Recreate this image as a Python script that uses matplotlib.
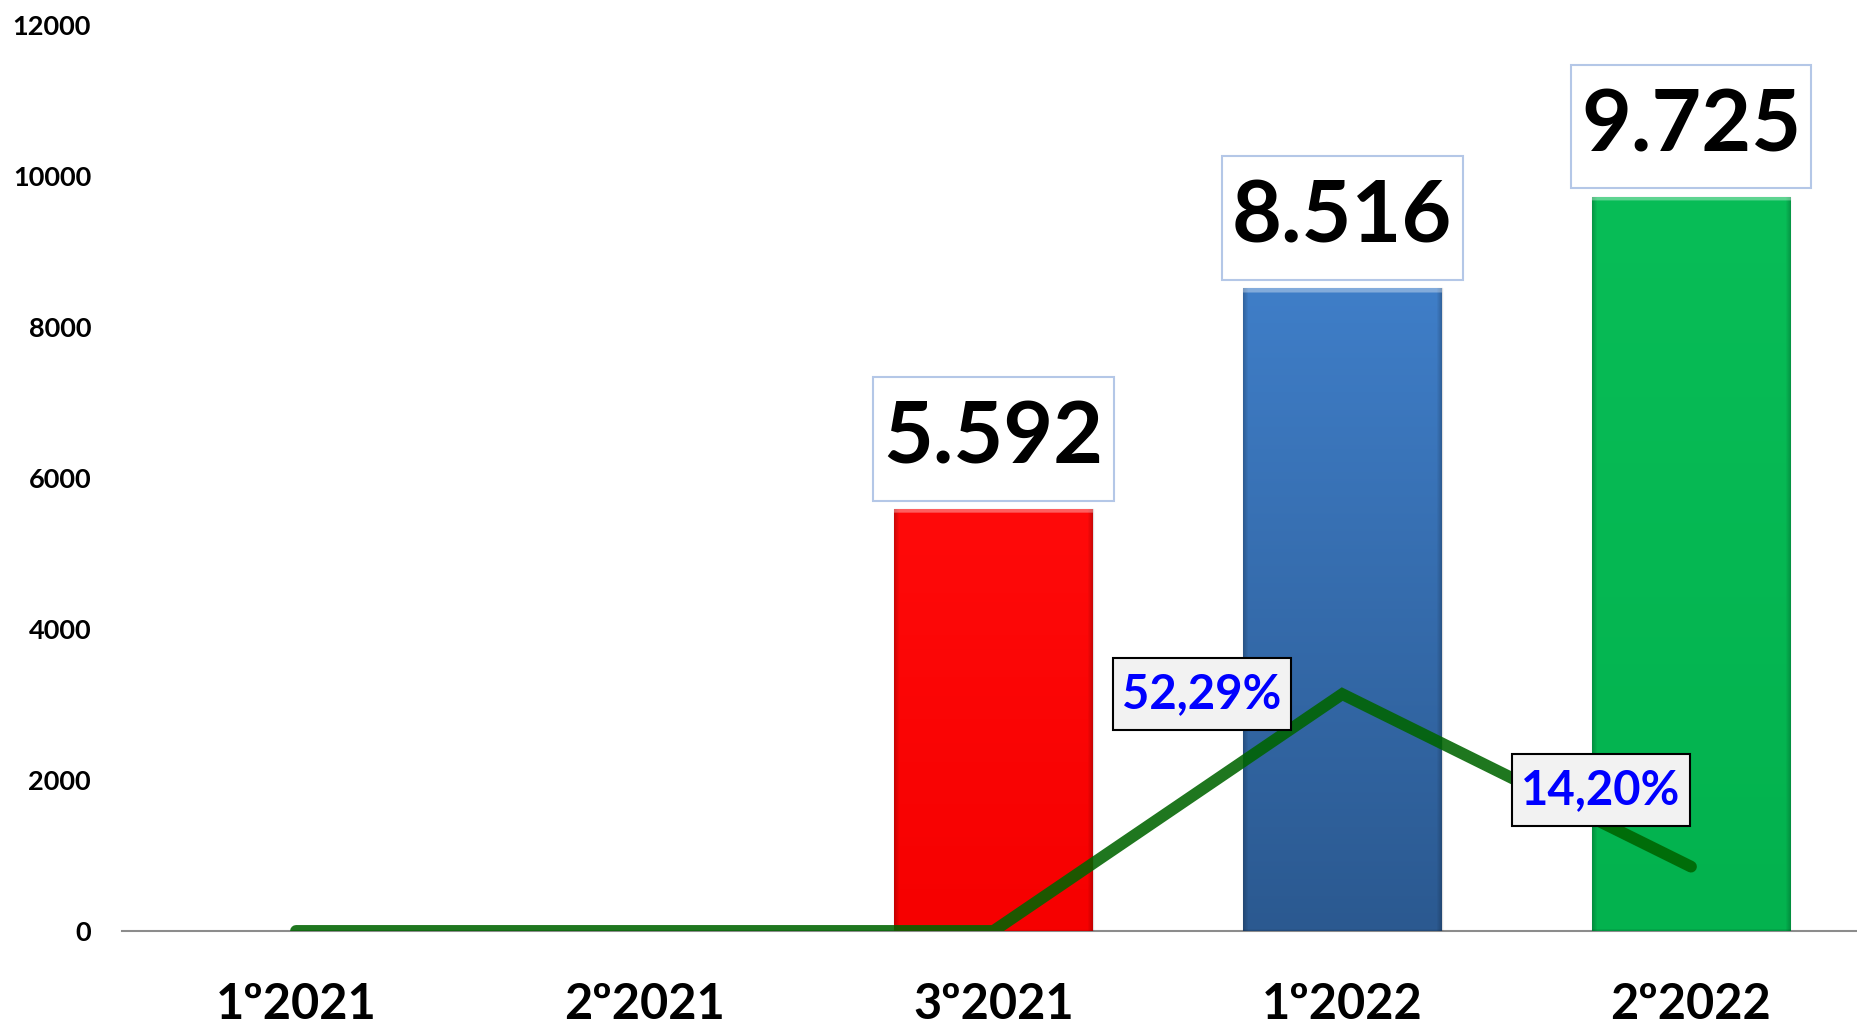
import numpy as np
import matplotlib.pyplot as plt
from matplotlib.colors import to_rgb
from matplotlib.path import Path

plt.rcParams['font.family'] = ['Lato', 'DejaVu Sans']
plt.rcParams['font.weight'] = 'bold'

periods = ['1º2021', '2º2021', '3º2021', '1º2022', '2º2022']
totals = [0, 0, 5592, 8516, 9725]
growth = [0, 0, 0, 0.5229, 0.1420]
bar_top = ['#ff0a0a', '#ff0a0a', '#ff0a0a', '#3f7ec8', '#08bd57']
bar_bottom = ['#f60000', '#f60000', '#f60000', '#2b5990', '#03b24e']


def padded_box(padx, pady):
    # rectangle around the text with separate horizontal / vertical padding
    def box(x0, y0, width, height, mutation_size):
        px, py = padx * mutation_size, pady * mutation_size
        x1, y1 = x0 + width + px, y0 + height + py
        x0, y0 = x0 - px, y0 - py
        return Path([(x0, y0), (x1, y0), (x1, y1), (x0, y1), (x0, y0)],
                    closed=True)
    return box


fig = plt.figure(figsize=(18.57, 10.19), dpi=100)
ax = fig.add_axes([0.0655, 0.0864, 0.939, 0.8891])
x = np.arange(len(periods))

bars = ax.bar(x, totals, width=0.57, color=bar_top, zorder=2)

# shaded fill for each bar: vertical gradient, darker side edges, light top rim
px_per_unit = 906 / 12000
for b, c1, c2 in zip(bars, bar_top, bar_bottom):
    h = b.get_height()
    if h <= 0:
        continue
    rows = 1000
    t = np.linspace(0, 1, rows)[:, None, None]
    top, bot = np.array(to_rgb(c1)), np.array(to_rgb(c2))
    img = top * (1 - t) + bot * t
    u = np.linspace(-1, 1, 200)[None, :, None]
    edge = 1 - 0.2 * np.clip((np.abs(u) - 0.95) / 0.05, 0, 1)
    img = np.clip(img * edge, 0, 1)
    rim = max(1, int(rows * 5 / (h * px_per_unit)))
    img[:rim] = np.clip(img[:rim] * 0.65 + 0.35, 0, 1)
    img[-2:] = img[-2:] * 0.85
    im = ax.imshow(img, extent=[b.get_x(), b.get_x() + b.get_width(), 0, h],
                   aspect='auto', zorder=2.1, interpolation='bilinear')
    im.set_clip_path(b)
    b.set_facecolor('none')
    b.set_edgecolor((0, 0, 0, 0.12))
    b.set_linewidth(1)

for b, v in zip(bars, totals):
    if v <= 0:
        continue
    ax.annotate(f'{v:,}'.replace(',', '.'), (b.get_x() + b.get_width() / 2, v),
                xytext=(0, 50.5), textcoords='offset points', ha='center', va='center',
                fontsize=62, fontweight='bold', color='black', zorder=6,
                bbox=dict(boxstyle=padded_box(0.12, 0.26), fc='white',
                          ec='#b4c7e7', lw=1.5))

ax.set_xlim(-0.5, len(periods) - 0.5)
ax.set_ylim(0, 12000)
ax.set_yticks(np.arange(0, 12001, 2000))
ax.set_xticks(x)
ax.set_xticklabels(periods)
ax.tick_params(axis='y', length=0, pad=22, labelsize=19.5)
ax.tick_params(axis='x', length=0, pad=37, labelsize=35)
for s in ['top', 'right', 'left']:
    ax.spines[s].set_visible(False)
ax.spines['bottom'].set_color('#8c8c8c')
ax.spines['bottom'].set_linewidth(1.5)
ax.spines['bottom'].set_zorder(1)

# growth rate on a hidden secondary scale
ax2 = ax.twinx()
ax2.set_ylim(0, 2.0)
ax2.axis('off')
ax2.plot(x, growth, color='#006400', alpha=0.88, lw=8.5, solid_capstyle='round',
         solid_joinstyle='miter', zorder=3)

offsets = {3: (-101, 0), 4: (-65, 55)}
for i, g in enumerate(growth):
    if i not in offsets:
        continue
    ax2.annotate(f'{g * 100:.2f}%'.replace('.', ','), (x[i], g),
                 xytext=offsets[i], textcoords='offset points', ha='center', va='center',
                 fontsize=34, fontweight='bold', color='#0000ff', zorder=5,
                 bbox=dict(boxstyle=padded_box(0.2, 0.3), fc='#f2f2f2',
                           ec='black', lw=1.5))

fig.savefig('out.png', dpi=100)
